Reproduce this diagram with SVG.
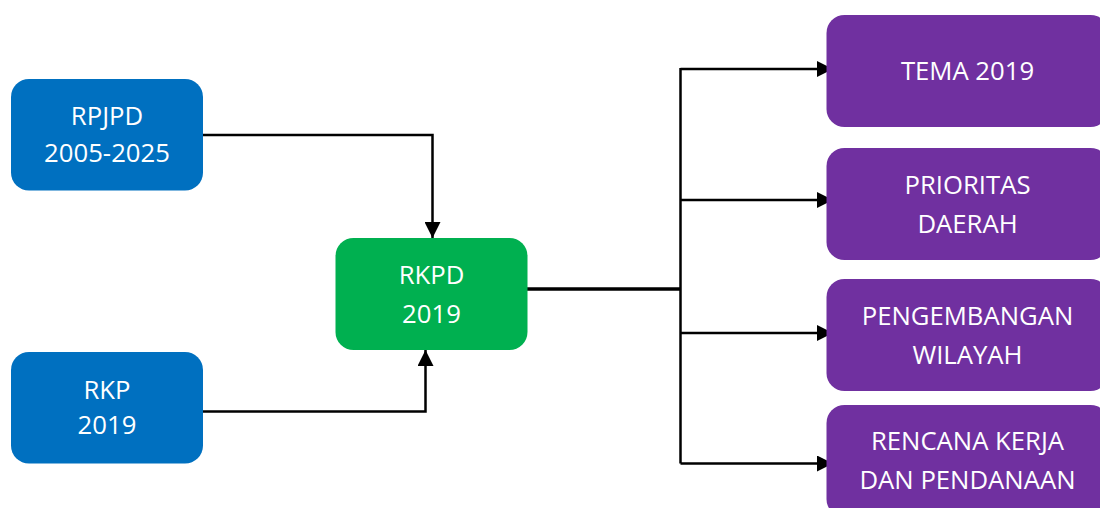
<svg xmlns="http://www.w3.org/2000/svg" width="1100" height="508" viewBox="0 0 1100 508">
  <style>
    .box-blue { fill: #0070C0; }
    .box-green { fill: #00B050; }
    .box-purple { fill: #7030A0; }
    .label { font-family: "Open Sans", "Liberation Sans", sans-serif; font-size: 25.7px; fill: #ffffff; text-anchor: middle; }
    .wire { fill: none; stroke: #000000; stroke-width: 2.5; }
    .wire-main { fill: none; stroke: #000000; stroke-width: 3.5; }
  </style>
  <defs>
    <marker id="arrow" markerUnits="userSpaceOnUse" markerWidth="18" markerHeight="16" refX="16" refY="8" orient="auto">
      <path d="M0,0 L16,8 L0,16 Z" fill="#000000"/>
    </marker>
  </defs>

  <rect width="1100" height="508" fill="#ffffff"/>

  <!-- connectors -->
  <g id="connectors">
    <path class="wire" d="M203,135 H432.5 V238" marker-end="url(#arrow)"/>
    <path class="wire" d="M203,411.5 H425.5 V350" marker-end="url(#arrow)"/>
    <path class="wire-main" d="M527,289 H680.5"/>
    <path class="wire" d="M680.5,68 V463.5"/>
    <path class="wire" d="M680.5,69 H833" marker-end="url(#arrow)"/>
    <path class="wire" d="M680.5,200 H833" marker-end="url(#arrow)"/>
    <path class="wire" d="M680.5,333 H833" marker-end="url(#arrow)"/>
    <path class="wire" d="M680.5,463.5 H833" marker-end="url(#arrow)"/>
  </g>

  <g id="rpjpd">
    <rect class="box-blue" x="11" y="79" width="192" height="111.5" rx="18"/>
    <text class="label" x="107" y="125">RPJPD</text>
    <text class="label" x="107" y="162">2005-2025</text>
  </g>

  <g id="rkp">
    <rect class="box-blue" x="11" y="352" width="192" height="111.5" rx="18"/>
    <text class="label" x="107" y="399">RKP</text>
    <text class="label" x="107" y="434">2019</text>
  </g>

  <g id="rkpd">
    <rect class="box-green" x="335.5" y="238" width="192" height="112" rx="18"/>
    <text class="label" x="431.5" y="284">RKPD</text>
    <text class="label" x="431.5" y="322.5">2019</text>
  </g>

  <g id="tema">
    <rect class="box-purple" x="826.5" y="15" width="282" height="112" rx="18"/>
    <text class="label" x="967.5" y="80">TEMA 2019</text>
  </g>

  <g id="prioritas">
    <rect class="box-purple" x="826.5" y="148" width="282" height="112" rx="18"/>
    <text class="label" x="967.5" y="194">PRIORITAS</text>
    <text class="label" x="967.5" y="232.5">DAERAH</text>
  </g>

  <g id="pengembangan">
    <rect class="box-purple" x="826.5" y="279" width="282" height="112" rx="18"/>
    <text class="label" x="967.5" y="325">PENGEMBANGAN</text>
    <text class="label" x="967.5" y="364">WILAYAH</text>
  </g>

  <g id="rencana">
    <rect class="box-purple" x="826.5" y="405" width="282" height="112" rx="18"/>
    <text class="label" x="967.5" y="450">RENCANA KERJA</text>
    <text class="label" x="967.5" y="489">DAN PENDANAAN</text>
  </g>
</svg>
